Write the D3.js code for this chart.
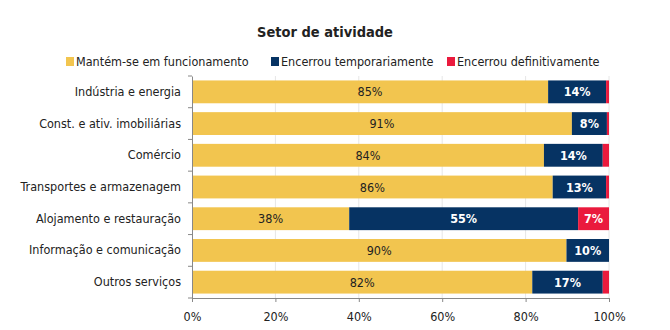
<!DOCTYPE html>
<html>
<head>
<meta charset="utf-8">
<script src="https://cdn.jsdelivr.net/npm/d3@7"></script>
<style>
  body { margin: 0; background: #fff; }
  svg text { font-family: "DejaVu Sans Condensed", "DejaVu Sans", sans-serif; }
</style>
</head>
<body>
<div id="chart"></div>
<script>
// categories (top to bottom)
var sectors = ["Indústria e energia", "Const. e ativ. imobiliárias", "Comércio",
  "Transportes e armazenagem", "Alojamento e restauração",
  "Informação e comunicação", "Outros serviços"];
var seriesNames = ["Mantém-se em funcionamento", "Encerrou temporariamente", "Encerrou definitivamente"];
// shares in %
var funcionamento = [85.4, 91.1, 84.4, 86.5, 37.7, 89.8, 81.6];
var temporario    = [13.9,  8.4, 14.1, 12.8, 54.9, 10.2, 16.9];
var definitivo    = [ 0.7,  0.5,  1.5,  0.7,  7.4,  0.0,  1.5];
// printed labels
var labFunc = ["85%", "91%", "84%", "86%", "38%", "90%", "82%"];
var labTemp = ["14%", "8%", "14%", "13%", "55%", "10%", "17%"];
var labDef  = ["", "", "", "", "7%", "", ""];
var xTicks = [0, 20, 40, 60, 80, 100];

var colors = ["#f2c54f", "#063363", "#ea1a3d"];

var W = 670, H = 330;
var margin = {top: 76, right: 61, bottom: 32, left: 192};
var width = W - margin.left - margin.right;
var height = H - margin.top - margin.bottom;

var svg = d3.select("#chart").append("svg")
    .attr("width", W).attr("height", H);

svg.append("text")
    .attr("x", 325).attr("y", 37)
    .attr("text-anchor", "middle")
    .style("font-size", "14.5px").style("font-weight", "bold")
    .attr("fill", "#222")
    .text("Setor de atividade");

// legend
var legX = [66, 271, 447];
var leg = svg.selectAll(".leg").data(seriesNames).enter().append("g")
    .attr("transform", function(d, i) { return "translate(" + legX[i] + ",62)"; });
leg.append("rect").attr("x", 0).attr("y", -5).attr("width", 8).attr("height", 9)
    .attr("fill", function(d, i) { return colors[i]; });
leg.append("text").attr("x", 10).attr("y", 4)
    .style("font-size", "12.5px").attr("fill", "#222")
    .text(function(d) { return d; });

var g = svg.append("g").attr("transform", "translate(" + margin.left + "," + margin.top + ")");

var x = d3.scaleLinear().domain([0, 100]).range([0, width]);
var y = d3.scaleBand().domain(sectors).range([0, height]).paddingInner(0.28).paddingOuter(0.14);

// gridlines
g.selectAll(".grid").data(xTicks.slice(1)).enter().append("line")
    .attr("x1", function(d) { return x(d); }).attr("x2", function(d) { return x(d); })
    .attr("y1", 0).attr("y2", height)
    .attr("stroke", "#e6e6e6");

var rows = sectors.map(function(s, i) {
  return {sector: s, vals: [funcionamento[i], temporario[i], definitivo[i]],
          labs: [labFunc[i], labTemp[i], labDef[i]]};
});

rows.forEach(function(r) {
  var start = 0;
  r.vals.forEach(function(v, k) {
    if (v > 0) {
      g.append("rect")
        .attr("x", x(start)).attr("y", y(r.sector))
        .attr("width", x(start + v) - x(start)).attr("height", y.bandwidth())
        .attr("fill", colors[k]);
      if (r.labs[k]) {
        g.append("text")
          .attr("x", x(start + v / 2)).attr("y", y(r.sector) + y.bandwidth() / 2 + 4.5)
          .attr("text-anchor", "middle")
          .style("font-size", "12.5px")
          .style("font-weight", k == 0 ? "normal" : "bold")
          .attr("fill", k == 0 ? "#222" : "#fff")
          .text(r.labs[k]);
      }
    }
    start += v;
  });
});

// axes
var yAxis = g.append("g").call(d3.axisLeft(y).tickSize(0).tickPadding(11));
yAxis.select(".domain").attr("stroke", "#888");
yAxis.selectAll("text").style("font-size", "12.5px").attr("fill", "#222");
// ticks at band boundaries
g.selectAll(".ytick").data(sectors.map(function(s, i) { return i * height / sectors.length; }).concat([height]))
  .enter().append("line")
    .attr("x1", -4).attr("x2", 0)
    .attr("y1", function(d) { return d; }).attr("y2", function(d) { return d; })
    .attr("stroke", "#888");

var xAxis = g.append("g").attr("transform", "translate(0," + height + ")")
    .call(d3.axisBottom(x).tickValues(xTicks).tickFormat(function(d) { return d + "%"; }).tickSize(4).tickPadding(10));
xAxis.selectAll("path, line").attr("stroke", "#888");
xAxis.selectAll("text").style("font-size", "12.5px").attr("fill", "#222");
</script>
</body>
</html>
